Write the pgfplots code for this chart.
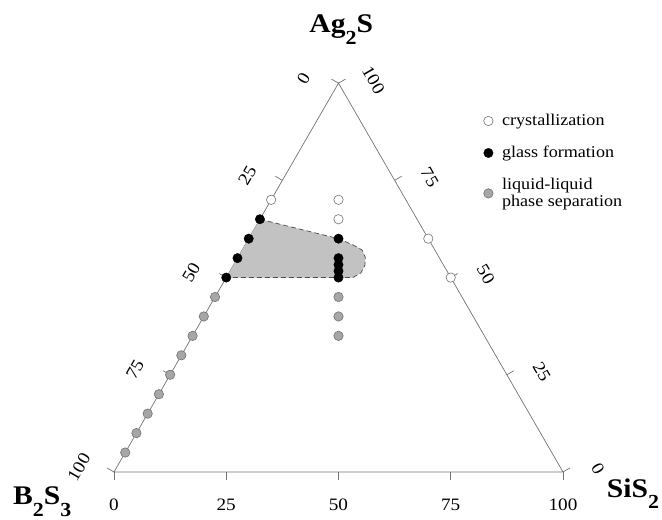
\documentclass[border=0pt]{standalone}
\usepackage{pgfplots}
\pgfplotsset{compat=1.18}
\usepackage{pgfplotstable}
\usepackage{fontspec}
\setmainfont{Liberation Serif}[FakeStretch=1.1]

% ternary data: Ag = Ag2S (%), Si = SiS2 (%), B2S3 = 100 - Ag - Si
\pgfplotstableread{
Ag Si
70 0
70 15
65 17.5
60 40
50 50
}\crys
\pgfplotstableread{
Ag Si
65 0
60 0
55 0
50 0
60 20
55 22.5
53.3 23.35
51.7 24.15
50 25
}\glass
\pgfplotstableread{
Ag Si
45 0
40 0
35 0
30 0
25 0
20 0
15 0
10 0
5 0
45 27.5
40 30
35 32.5
}\llps
\pgfplotstableread{
Ag Si
65 0
60 20
58.4 24.0
57.1 26.7
55.3 28.3
53.2 29.3
51.2 29.4
50 28.2
50 0
}\region

\newcommand\tlf{\fontsize{17.5}{17.5}\selectfont}
\newcommand\clf{\fontsize{27}{27}\selectfont\bfseries}
\newcommand\sub[1]{\raisebox{-0.42em}{\fontsize{20}{20}\selectfont #1}}

\begin{document}
\begin{tikzpicture}
\begin{scope}[x=4.49bp,y=4.49bp]
\draw[black!55, line width=0.7bp] (0,0) -- (100,0) -- (50,86.6025) -- cycle;
\foreach \v in {0,25,50,75,100}{
  \draw[black!55, line width=0.7bp] (\v,0) -- (\v,-1.8);
  \node[font=\tlf] at (\v,-7.3) {\v};
  \draw[black!55, line width=0.7bp] ({(100-\v)/2},{0.8660254*(100-\v)}) -- ++(-1.56,0.9);
  \node[font=\tlf, rotate=60] at ({(100-\v)/2-7.8},{0.8660254*(100-\v)+1.1}) {\v};
  \draw[black!55, line width=0.7bp] ({100-\v/2},{0.8660254*\v}) -- ++(1.56,0.9);
  \node[font=\tlf, rotate=-60] at ({100-\v/2+7.8},{0.8660254*\v+0.7}) {\v};
}
\node[font=\clf, anchor=base] at (50.6,97.8) {Ag\sub{2}S};
\node[font=\clf, anchor=base] at (-16.0,-7.35) {B\sub{2}S\sub{3}};
\node[font=\clf, anchor=base] at (115.6,-5.6) {SiS\sub{2}};
\end{scope}
\begin{axis}[x=4.49bp, y=4.49bp, xmin=-25.39, xmax=122.05, ymin=-10.69, ymax=105.12,
  hide axis, clip=false, anchor=origin, at={(0,0)}, disabledatascaling,
  legend style={draw=none, fill=none, at={(axis cs:82.3,80.1)}, anchor=north west,
    font=\fontsize{16.5}{17}\selectfont, cells={align=left}, row sep=15bp, inner sep=0pt,
    /tikz/column 1/.style={column sep=7bp}},
  legend cell align=left,
  table/x expr={\thisrow{Si}+0.5*\thisrow{Ag}}, table/y expr={0.8660254*\thisrow{Ag}}]
\addplot[fill=gray!48, draw=none, forget plot] table {\region};
\addplot[black!70, line width=0.7bp, dash pattern=on 5bp off 3bp, forget plot] table {\region};
\addplot[only marks, mark=*, mark size=4.7bp, mark options={fill=white, draw=black!55, line width=0.6bp}] table {\crys};
\addlegendentry{crystallization}
\addplot[only marks, mark=*, mark size=4.7bp, mark options={fill=black, draw=black}] table {\glass};
\addlegendentry{glass formation}
\addplot[only marks, mark=*, mark size=4.7bp, mark options={fill=black!35, draw=black!55, line width=0.6bp}] table {\llps};
\addlegendentry{liquid-liquid\\phase separation}
\end{axis}
\pgfresetboundingbox
\begin{scope}[x=4.49bp,y=4.49bp]
\useasboundingbox (-25.39,-10.69) rectangle (122.05,105.12);
\end{scope}
\end{tikzpicture}
\end{document}
